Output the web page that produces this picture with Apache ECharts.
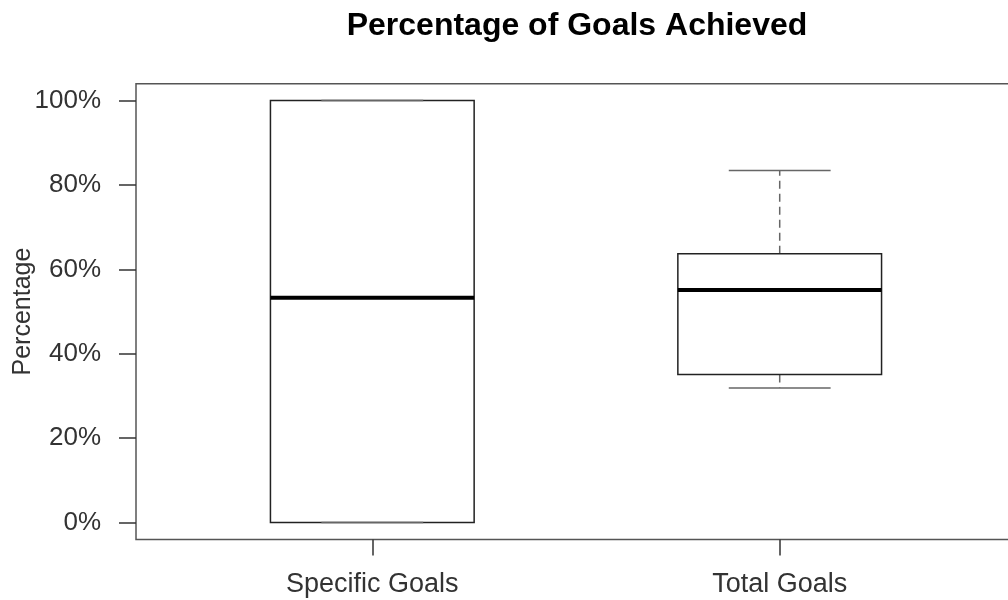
<!DOCTYPE html>
<html>
<head>
<meta charset="utf-8">
<script src="https://cdn.jsdelivr.net/npm/echarts@6/dist/echarts.min.js"></script>
<style>html,body{margin:0;padding:0;background:#fff}#c{width:1008px;height:600px}</style>
</head>
<body>
<div id="c"></div>
<script>
var categories = ['Specific Goals', 'Total Goals'];
var lowerWhisker = [0, 31.9];
var q1 = [0, 35.1];
var median = [53.3, 55.1];
var q3 = [100, 63.7];
var upperWhisker = [100, 83.4];
var yTicks = [0, 20, 40, 60, 80, 100];
var xPositions = [1, 2];

var data = categories.map(function (c, i) {
  return [xPositions[i], lowerWhisker[i], q1[i], median[i], q3[i], upperWhisker[i]];
});

var FONT = 'Liberation Sans, Arial, Helvetica, sans-serif';
var chart = echarts.init(document.getElementById('c'), null, {renderer: 'canvas'});

function renderItem(params, api) {
  var x = api.value(0);
  var pLW = api.coord([x, api.value(1)]);
  var pQ1 = api.coord([x, api.value(2)]);
  var pMed = api.coord([x, api.value(3)]);
  var pQ3 = api.coord([x, api.value(4)]);
  var pUW = api.coord([x, api.value(5)]);
  var boxW = api.size([0.5, 0])[0];
  var capW = api.size([0.25, 0])[0];
  var cx = pMed[0];
  var whiskStyle = {stroke: '#666', lineWidth: 1.5, lineDash: [8, 5], fill: null};
  var capStyle = {stroke: '#666', lineWidth: 1.5, fill: null};
  var children = [];
  if (pUW[1] < pQ3[1]) {
    children.push({type: 'line', shape: {x1: cx, y1: pQ3[1], x2: cx, y2: pUW[1]}, style: whiskStyle});
  }
  if (pLW[1] > pQ1[1]) {
    children.push({type: 'line', shape: {x1: cx, y1: pQ1[1], x2: cx, y2: pLW[1]}, style: whiskStyle});
  }
  children.push({type: 'rect', shape: {x: cx - boxW / 2, y: pQ3[1], width: boxW, height: pQ1[1] - pQ3[1]},
    style: {stroke: '#222', lineWidth: 1.5, fill: 'rgba(0,0,0,0)'}});
  children.push({type: 'line', shape: {x1: cx - capW / 2, y1: pUW[1], x2: cx + capW / 2, y2: pUW[1]}, style: capStyle});
  children.push({type: 'line', shape: {x1: cx - capW / 2, y1: pLW[1], x2: cx + capW / 2, y2: pLW[1]}, style: capStyle});
  children.push({type: 'line', shape: {x1: cx - boxW / 2, y1: pMed[1], x2: cx + boxW / 2, y2: pMed[1]},
    style: {stroke: '#000', lineWidth: 4}});
  return {type: 'group', children: children};
}

chart.setOption({
  animation: false,
  backgroundColor: '#fff',
  title: {
    text: 'Percentage of Goals Achieved',
    left: 572,
    textAlign: 'center',
    top: 5,
    textStyle: {fontFamily: FONT, fontWeight: 'bold', fontSize: 32, color: '#000'}
  },
  grid: {
    left: 136, right: -8, top: 83.7, bottom: 60.6,
    outerBoundsMode: 'none',
    containLabel: false,
    show: true, borderColor: '#555', borderWidth: 1.5, backgroundColor: 'transparent'
  },
  xAxis: {
    type: 'value',
    min: 0.42, max: 2.58,
    splitLine: {show: false},
    axisLine: {show: false, onZero: false},
    axisTick: {show: true, customValues: xPositions, length: 16, lineStyle: {color: '#333', width: 1.5}},
    axisLabel: {
      customValues: xPositions, margin: 32,
      fontFamily: FONT, fontSize: 27, color: '#333',
      formatter: function (v) { return categories[Math.round(v) - 1] || ''; }
    }
  },
  yAxis: {
    type: 'value',
    min: -4, max: 104,
    name: 'Percentage',
    nameLocation: 'middle',
    nameGap: 100,
    nameMoveOverlap: false,
    nameTextStyle: {fontFamily: FONT, fontSize: 25, color: '#333'},
    splitLine: {show: false},
    axisLine: {show: false, onZero: false},
    axisTick: {show: true, customValues: yTicks, length: 17, lineStyle: {color: '#333', width: 1.5}},
    axisLabel: {
      customValues: yTicks, margin: 35,
      fontFamily: FONT, fontSize: 26, color: '#333',
      formatter: '{value}%'
    }
  },
  series: [{
    type: 'custom',
    renderItem: renderItem,
    encode: {x: 0, y: [1, 2, 3, 4, 5]},
    data: data,
    clip: false
  }]
});
</script>
</body>
</html>
